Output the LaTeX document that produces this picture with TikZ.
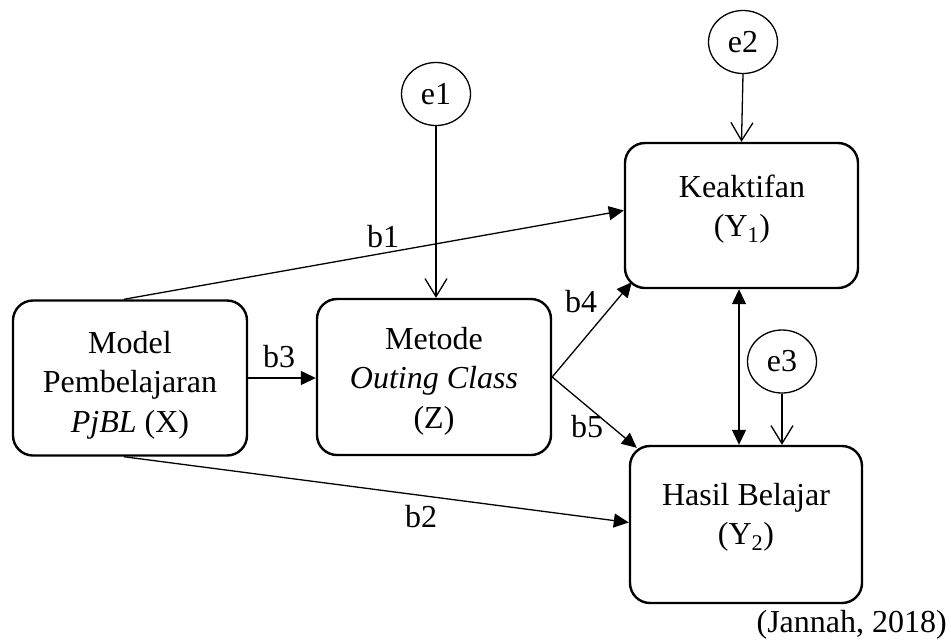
\documentclass[tikz,border=0pt]{standalone}
\usepackage{fontspec}
\setmainfont{Liberation Serif}
\usetikzlibrary{arrows.meta,shapes.geometric}
\begin{document}
\begin{tikzpicture}[x=1pt,y=-1pt,
  every node/.style={font=\fontsize{32}{39.5}\selectfont, inner sep=0pt},
  box/.style 2 args={draw, line width=2.4pt, rounded corners=20pt,
    minimum width=#1, minimum height=#2},
  errnode/.style={draw, ellipse, line width=1.3pt, minimum width=69pt, minimum height=63pt},
  txt/.style={anchor=base},
  conn/.style={line width=1.3pt, -{Triangle[length=15pt,width=14pt]}},
  both/.style={line width=1.3pt, {Triangle[length=15pt,width=14pt]}-{Triangle[length=15pt,width=14pt]}},
  errarrow/.style={line width=1.3pt, -{Straight Barb[length=18pt,width=22pt,line width=1.3pt]}},
  lbl/.style={anchor=base}]
\useasboundingbox (0,0) rectangle (951,641);

% boxes
\node[box={234pt}{155pt}] (X) at (130,378) {};
\node[box={234pt}{156pt}] (Z) at (434,377) {};
\node[box={233pt}{145pt}] (Y1) at (741.5,215.5) {};
\node[box={232pt}{157pt}] (Y2) at (746,524.5) {};

% box texts
\node[txt] (Xt) at (130,353) {\begin{tabular}[t]{@{}c@{}}Model\\Pembelajaran\\\textit{PjBL} (X)\end{tabular}};
\node[txt] (Zt) at (434,349) {\begin{tabular}[t]{@{}c@{}}Metode\\\textit{Outing Class}\\(Z)\end{tabular}};
\node[txt] (Y1t) at (742,197) {\begin{tabular}[t]{@{}c@{}}Keaktifan\\(Y\textsubscript{1})\end{tabular}};
\node[txt] (Y2t) at (746,505) {\begin{tabular}[t]{@{}c@{}}Hasil Belajar\\(Y\textsubscript{2})\end{tabular}};

% error terms
\node[errnode] (e1) at (436,94) {e1};
\node[errnode] (e2) at (743,42) {e2};
\node[errnode] (e3) at (782,361.5) {e3};

% paths
\draw[conn] ([xshift=112pt]X.north west) -- ([yshift=5pt]Y1.west);
\draw[conn] ([xshift=112pt]X.south west) -- ([yshift=2pt]Y2.west);
\draw[conn] (X.east) -- (X.east -| Z.west);
\draw[conn] (Z.east) -- ([shift={(8pt,7pt)}]Y1.south west);
\draw[conn] (Z.east) -- ([shift={(8pt,-3pt)}]Y2.north west);
\draw[both] ([xshift=-2.5pt]Y1.south) -- ([xshift=-2.5pt]Y1.south |- Y2.north);

\draw[errarrow] (e1.south) -- (e1.south |- Z.north);
\draw[errarrow] (e2.south) -- (Y1.north);
\draw[errarrow] (e3.south) -- (e3.south |- Y2.north);

% path labels
\node[lbl] (lb1) at (383,247) {b1};
\node[lbl] (lb2) at (421,527) {b2};
\node[lbl] (lb3) at (279,367) {b3};
\node[lbl] (lb4) at (581,312) {b4};
\node[lbl] (lb5) at (587,437) {b5};

% source
\node[anchor=base east] (src) at (947,632) {(Jannah, 2018)};
\end{tikzpicture}
\end{document}
